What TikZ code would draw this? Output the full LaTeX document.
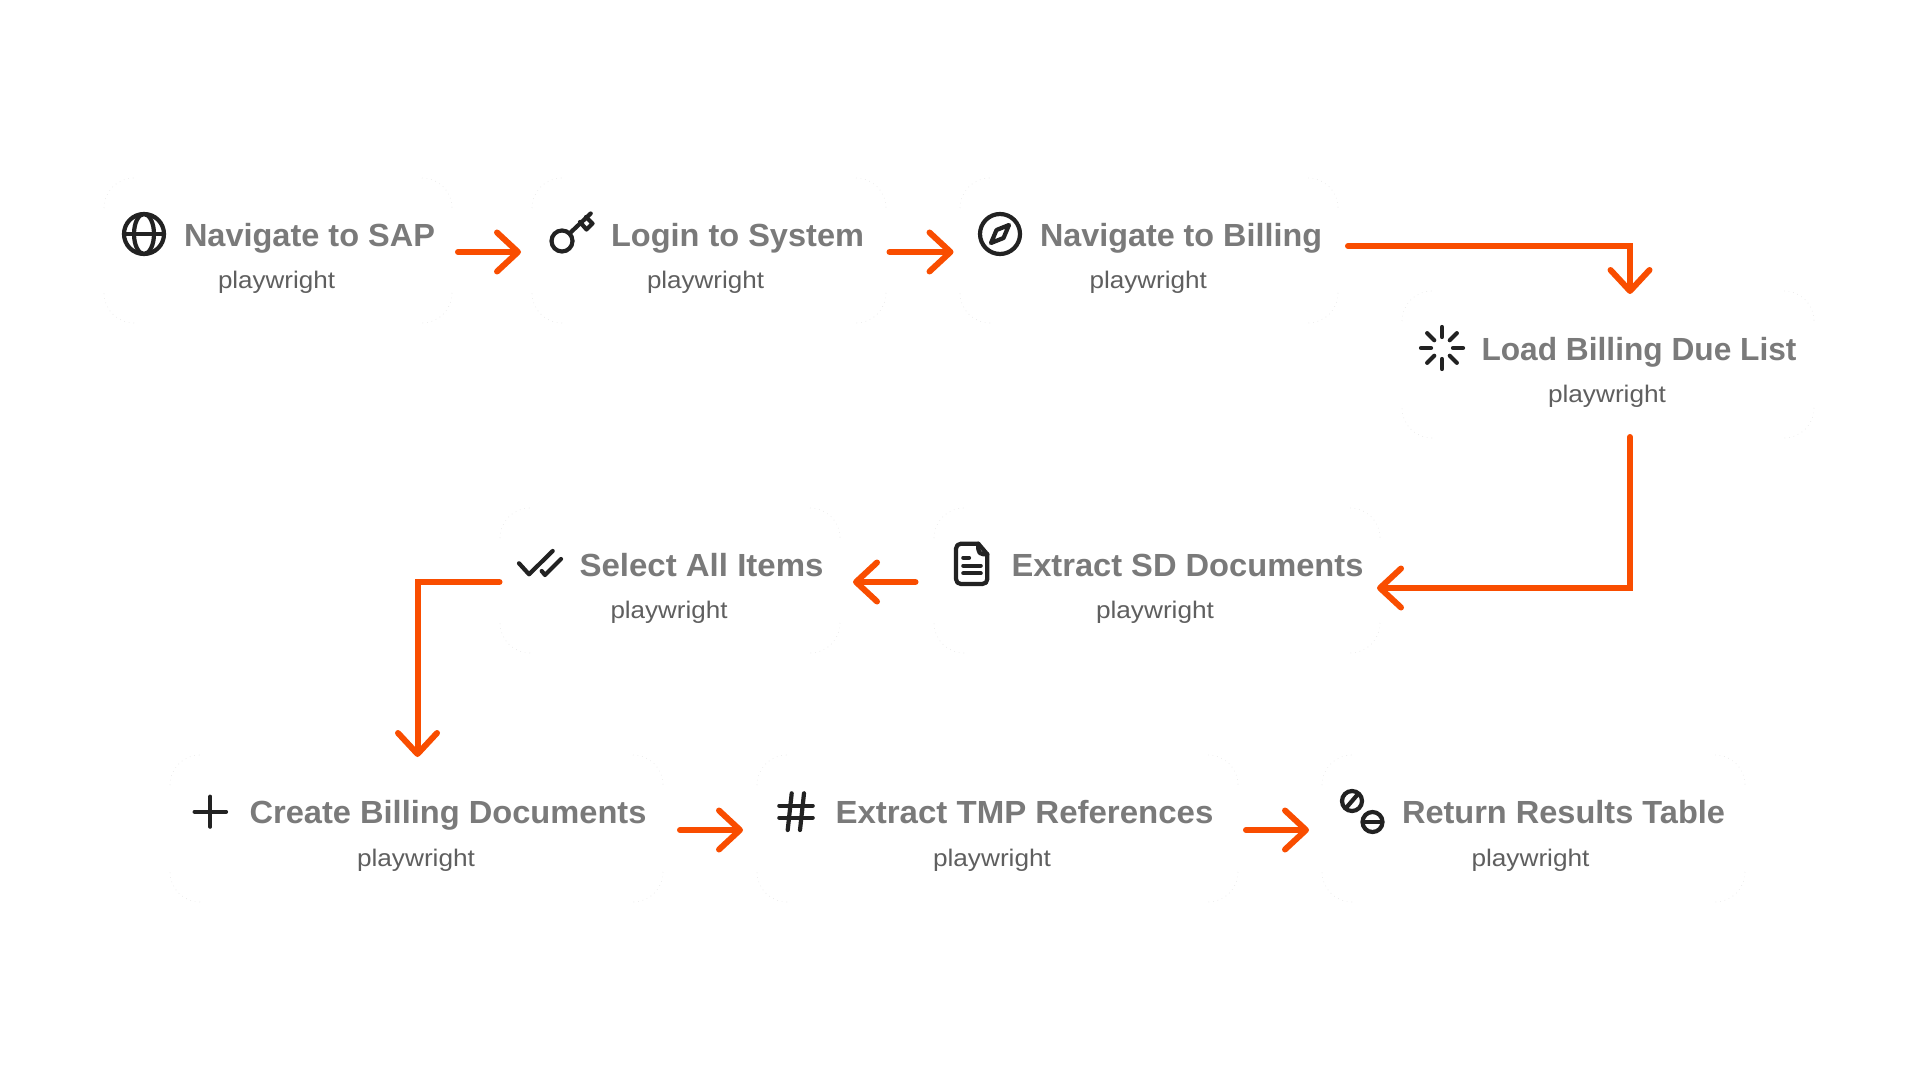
\documentclass[tikz,border=0pt]{standalone}
\usepackage{fontspec}
\usepackage{graphicx}
\usetikzlibrary{arrows.meta}
\setmainfont{Liberation Sans}
\definecolor{flowc}{HTML}{F94D00}
\definecolor{titlec}{HTML}{7A7A7A}
\definecolor{subc}{HTML}{5F5F5F}
\definecolor{icoc}{HTML}{222222}
\definecolor{cardc}{HTML}{FFFFFF}
\definecolor{dotc}{HTML}{E6E6E6}
\newcommand\fitx[2]{\setbox0\hbox{#2}\pgfmathsetmacro\fxr{((#1)*0.5)/\the\wd0}\scalebox{\fxr}[1]{#2}}
\tikzset{
  x=0.5pt,y=-0.5pt,
  cardbox/.style={inner sep=0pt,outer sep=0pt,fill=cardc,rounded corners=15pt},
  carddots/.style={draw=dotc,line width=0.3pt,dotted},
  titletxt/.style={anchor=base west,inner sep=0pt,outer sep=0pt,text=titlec,font=\fontsize{16}{18}\selectfont\bfseries},
  subtxt/.style={anchor=base west,inner sep=0pt,outer sep=0pt,text=subc,font=\fontsize{12}{14}\selectfont},
  ico/.style={draw=icoc,line width=2.1pt,line cap=round,line join=round},
  flow/.style={draw=flowc,line width=3pt,line cap=round,line join=miter,
    -{Straight Barb[round,length=10.5pt,width=19.5pt,line width=3pt]}},
}
\newcommand\card[5]{%
  \node[cardbox,minimum width={(#4-#2)*0.5pt},minimum height={(#5-#3)*0.5pt}] (#1) at ({(#2+#4)/2},{(#3+#5)/2}) {};
  \draw[carddots] ([yshift=-15pt]#1.north west) arc[start angle=180,end angle=270,radius=30];
  \draw[carddots] ([xshift=-15pt]#1.north east) arc[start angle=270,end angle=360,radius=30];
  \draw[carddots] ([yshift=15pt]#1.south east) arc[start angle=0,end angle=90,radius=30];
  \draw[carddots] ([xshift=15pt]#1.south west) arc[start angle=90,end angle=180,radius=30];
}
% name suffix, title x0, x1, baseline, title, sub x0, x1, baseline
\newcommand\labels[8]{%
  \node[titletxt] (t#1) at (#2,#4) {\fitx{#3-#2}{#5}};
  \node[subtxt] (s#1) at (#6,#8) {\fitx{#7-#6}{playwright}};
}
\begin{document}
\begin{tikzpicture}
\useasboundingbox[fill=white] (0,0) rectangle (1920,1080);
\card{n1}{104}{178}{452}{323}
\card{n2}{532}{178}{886}{323}
\card{n3}{960}{178}{1338}{323}
\card{n4}{1402}{291}{1814}{438}
\card{n5}{934}{508}{1380}{653}
\card{n6}{500}{508}{840}{653}
\card{n7}{170}{755}{663}{902}
\card{n8}{757}{755}{1238}{902}
\card{n9}{1322}{755}{1745}{902}

\labels{1}{184}{435}{246.5}{Navigate to SAP}{218}{335}{288.5}
\labels{2}{611}{864}{246.5}{Login to System}{647}{764}{288.5}
\labels{3}{1040}{1322}{246.5}{Navigate to Billing}{1089.5}{1207}{288.5}
\labels{4}{1481.5}{1796.5}{360.5}{Load Billing Due List}{1548}{1666}{402.5}
\labels{5}{1011.5}{1363.5}{576.5}{Extract SD Documents}{1096}{1214}{618.5}
\labels{6}{579.5}{823.5}{576.5}{Select All Items}{610.5}{727.5}{618.5}
\labels{7}{249.5}{646.5}{823.5}{Create Billing Documents}{357}{475}{866.5}
\labels{8}{835.5}{1213.5}{823.5}{Extract TMP References}{933}{1051}{866.5}
\labels{9}{1402}{1725}{823.5}{Return Results Table}{1471.5}{1589.5}{866.5}

% connectors
\draw[flow] ([shift={(6,1.5)}]n1.east) -- ([shift={(-11,1.5)}]n2.west);
\draw[flow] ([shift={(3.5,1.5)}]n2.east) -- ([shift={(-6.5,1.5)}]n3.west);
\draw[flow] ([shift={(10,-4.5)}]n3.east) -| ([shift={(22,3)}]n4.north);
\draw[flow] ([shift={(22,-1)}]n4.south) |- ([shift={(-3,7.5)}]n5.east);
\draw[flow] ([shift={(-18.5,1.5)}]n5.west) -- ([shift={(13,1.5)}]n6.east);
\draw[flow] ([shift={(-0.5,1.5)}]n6.west) -| ([shift={(1,2)}]n7.north);
\draw[flow] ([shift={(17,1.5)}]n7.east) -- ([shift={(-14,1.5)}]n8.west);
\draw[flow] ([shift={(8,1.5)}]n8.east) -- ([shift={(-13,1.5)}]n9.west);

% globe
\draw[ico] (144,234) circle[radius=20];
\draw[ico] (144,234) ellipse[x radius=10,y radius=20];
\draw[ico] (124,234) -- (164,234);
% key
\draw[ico] (562,241) circle[radius=10.5];
\draw[ico] (570,233) -- (590.7,213.5);
\draw[ico] (580,222) -- (586.5,229.5) -- (592.5,223.5) -- (586,217);
% compass
\draw[ico] (1000,234) circle[radius=20];
\draw[ico,fill=none] (1009,225) -- (1003.5,238) -- (991,243) -- (996.5,230) -- cycle;
% spinner
\foreach \a in {0,45,...,315}
  \draw[ico] ({1442+11*cos(\a)},{348+11*sin(\a)}) -- ({1442+21*cos(\a)},{348+21*sin(\a)});
% double check
\draw[ico] (519,563.3) -- (529,574.3) -- (552.7,551);
\draw[ico] (541.7,571) -- (545,575) -- (561,559);
% document
\draw[ico] (978.3,543.7) -- (961,543.7) .. controls (958,543.7) and (956,545.7) .. (956,548.7)
  -- (956,579) .. controls (956,582) and (958,584) .. (961,584)
  -- (982.3,584) .. controls (985.3,584) and (987.3,582) .. (987.3,579) -- (987.3,554.3) -- cycle;
\draw[ico] (978.3,543.7) -- (978.3,549.3) .. controls (978.3,552.3) and (980.3,554.3) .. (983.3,554.3) -- (987.3,554.3);
\draw[ico] (963.3,557.7) -- (969,557.7);
\draw[ico] (963.3,565.7) -- (980.7,565.7);
\draw[ico] (963.3,573.3) -- (980.7,573.3);
% plus
\draw[ico] (194.6,811.7) -- (226,811.7);
\draw[ico] (210.3,796.7) -- (210.3,826.7);
% hash
\draw[ico] (779.3,805.7) -- (812.7,805.7);
\draw[ico] (779.3,817.7) -- (812.7,817.7);
\draw[ico] (791.7,793.3) -- (787.7,830);
\draw[ico] (804,793.3) -- (800,830);
% return icon
\draw[ico] (1352,801) circle[radius=10];
\draw[ico] (1346,808) -- (1358,794);
\draw[ico] (1372.5,822) circle[radius=10];
\draw[ico] (1364,822) -- (1381,822);
\end{tikzpicture}
\end{document}
